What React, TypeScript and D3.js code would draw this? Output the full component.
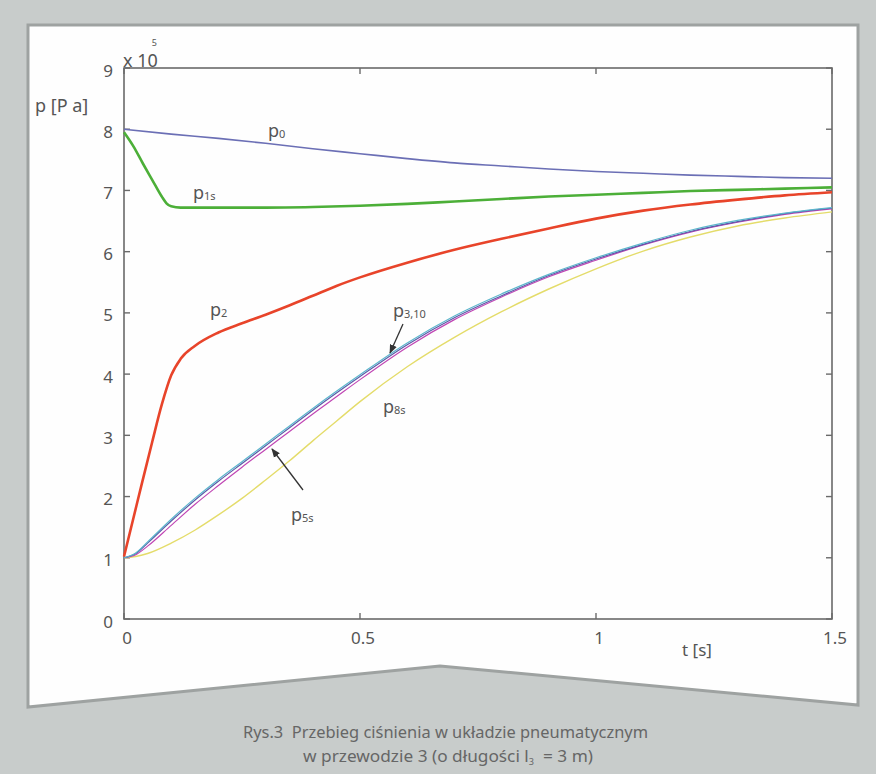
import React from "react";
import * as d3 from "d3";

const W = 876;
const H = 774;

const xTicks = [0, 0.5, 1, 1.5];
const xTickLabels = ["0", "0.5", "1", "1.5"];
const yTicks = [0, 1, 2, 3, 4, 5, 6, 7, 8, 9];

const tP0 = [0, 0.1, 0.2, 0.3, 0.4, 0.5, 0.6, 0.7, 0.8, 0.9, 1.0, 1.1, 1.2, 1.3, 1.4, 1.5];
const p0 = [8.0, 7.92, 7.85, 7.77, 7.68, 7.6, 7.52, 7.45, 7.4, 7.35, 7.31, 7.28, 7.25, 7.23, 7.21, 7.2];

const tP1s = [0, 0.02, 0.04, 0.06, 0.08, 0.09, 0.1, 0.12, 0.2, 0.3, 0.4, 0.5, 0.6, 0.7, 0.8, 0.9, 1.0, 1.1, 1.2, 1.3, 1.4, 1.5];
const p1s = [7.95, 7.72, 7.44, 7.17, 6.9, 6.79, 6.74, 6.72, 6.72, 6.72, 6.73, 6.75, 6.78, 6.82, 6.86, 6.9, 6.93, 6.96, 6.99, 7.01, 7.03, 7.05];

const tP2 = [0, 0.02, 0.04, 0.06, 0.08, 0.1, 0.12, 0.15, 0.2, 0.25, 0.3, 0.35, 0.4, 0.45, 0.5, 0.6, 0.7, 0.8, 0.9, 1.0, 1.1, 1.2, 1.3, 1.4, 1.5];
const p2 = [1.02, 1.65, 2.28, 2.9, 3.5, 3.98, 4.25, 4.46, 4.68, 4.83, 4.97, 5.12, 5.28, 5.44, 5.58, 5.82, 6.03, 6.21, 6.38, 6.54, 6.67, 6.77, 6.85, 6.92, 6.97];

const tSlow = [0, 0.025, 0.05, 0.1, 0.15, 0.2, 0.25, 0.3, 0.35, 0.4, 0.45, 0.5, 0.6, 0.7, 0.8, 0.9, 1.0, 1.1, 1.2, 1.3, 1.4, 1.5];
const p3 = [1.0, 1.08, 1.26, 1.63, 1.97, 2.28, 2.57, 2.86, 3.15, 3.44, 3.72, 3.99, 4.51, 4.95, 5.31, 5.63, 5.9, 6.14, 6.35, 6.51, 6.63, 6.72];
const p10 = [1.0, 1.07, 1.24, 1.6, 1.94, 2.25, 2.54, 2.83, 3.12, 3.41, 3.69, 3.96, 4.48, 4.92, 5.28, 5.61, 5.88, 6.12, 6.33, 6.49, 6.62, 6.71];
const p5s = [1.0, 1.05, 1.19, 1.53, 1.87, 2.18, 2.48, 2.77, 3.06, 3.35, 3.63, 3.91, 4.44, 4.89, 5.26, 5.59, 5.86, 6.11, 6.32, 6.48, 6.61, 6.7];
const p8s = [1.0, 1.02, 1.07, 1.24, 1.45, 1.7, 1.97, 2.27, 2.58, 2.91, 3.23, 3.55, 4.12, 4.6, 5.02, 5.39, 5.72, 6.01, 6.24, 6.42, 6.55, 6.65];

const series = [
  { t: tSlow, v: p8s, color: "#e4dc6a", width: 1.4 },
  { t: tSlow, v: p5s, color: "#c046b4", width: 1.2 },
  { t: tSlow, v: p10, color: "#5a5aa8", width: 1.2 },
  { t: tSlow, v: p3, color: "#5cb6cc", width: 1.2 },
  { t: tP2, v: p2, color: "#e8442a", width: 2.6 },
  { t: tP1s, v: p1s, color: "#4caf38", width: 2.6 },
  { t: tP0, v: p0, color: "#6b6fb5", width: 1.6 },
];

const L = 124, R = 832, T = 68, B = 619;
const FONT = "'Noto Sans', 'Open Sans', sans-serif";
const TXT = "#555";
const AX = "#6a6a6a";

export default function App() {
  const x = d3.scaleLinear().domain([0, 1.5]).range([L, R]);
  const y = d3.scaleLinear().domain([0, 9]).range([B, T]);
  const line = d3
    .line<[number, number]>()
    .x((d) => x(d[0]))
    .y((d) => y(d[1]))
    .curve(d3.curveMonotoneX);

  const tick = 6;

  return (
    <svg
      width={W}
      height={H}
      style={{ position: "absolute", left: 0, top: 0, display: "block" }}
    >
      <defs>
        <marker id="ah" viewBox="0 0 10 10" refX="9" refY="5" markerWidth="7" markerHeight="7" orient="auto-start-reverse">
          <path d="M0,1 L10,5 L0,9 Z" fill="#333" />
        </marker>
      </defs>
      <rect x={0} y={0} width={W} height={H} fill="#c8cccb" />
      <polygon
        points="28,25 858,25 858,705 440,666 28,707"
        fill="#fefefe"
        stroke="#9ea2a1"
        strokeWidth={3}
      />
      <rect x={L} y={T} width={R - L} height={B - T} fill="none" stroke={AX} strokeWidth={1.6} />
      {yTicks.map((v) => (
        <g key={"y" + v}>
          <line x1={L} x2={L + tick} y1={y(v)} y2={y(v)} stroke={AX} strokeWidth={1.4} />
          <line x1={R} x2={R - tick} y1={y(v)} y2={y(v)} stroke={AX} strokeWidth={1.4} />
          <text x={113} y={y(v) + 4} textAnchor="end" dominantBaseline="middle" fontFamily={FONT} fontSize={17} fill={TXT}>
            {v}
          </text>
        </g>
      ))}
      {xTicks.map((v, i) => (
        <g key={"x" + v}>
          <line x1={x(v)} x2={x(v)} y1={B} y2={B - tick} stroke={AX} strokeWidth={1.4} />
          <line x1={x(v)} x2={x(v)} y1={T} y2={T + tick} stroke={AX} strokeWidth={1.4} />
          <text x={x(v) + 3} y={644} textAnchor="middle" fontFamily={FONT} fontSize={17} fill={TXT}>
            {xTickLabels[i]}
          </text>
        </g>
      ))}
      <text x={123} y={67} fontFamily={FONT} fontSize={18} fill={TXT}>
        x 10<tspan fontSize={9} dx={-6} dy={-21}>5</tspan>
      </text>
      <text x={35} y={112} fontFamily={FONT} fontSize={18} fill={TXT}>p [P a]</text>
      <text x={682} y={656} fontFamily={FONT} fontSize={17} fill={TXT}>t [s]</text>

      {series.map((s, i) => (
        <path
          key={i}
          d={line(s.t.map((t, j) => [t, s.v[j]] as [number, number])) || ""}
          fill="none"
          stroke={s.color}
          strokeWidth={s.width}
          strokeLinejoin="round"
        />
      ))}

      <g fontFamily={FONT} fill={TXT}>
        <text x={268} y={137} fontSize={18}>p<tspan fontSize={11} dy={1}>0</tspan></text>
        <text x={193} y={199} fontSize={18}>p<tspan fontSize={11} dy={1}>1s</tspan></text>
        <text x={210} y={316} fontSize={18}>p<tspan fontSize={11} dy={1}>2</tspan></text>
        <text x={393} y={317} fontSize={18}>p<tspan fontSize={11} dy={1}>3,10</tspan></text>
        <text x={383} y={413} fontSize={18}>p<tspan fontSize={11} dy={1}>8s</tspan></text>
        <text x={291} y={521} fontSize={18}>p<tspan fontSize={11} dy={1}>5s</tspan></text>
      </g>
      <line x1={403} y1={324} x2={390} y2={353} stroke="#333" strokeWidth={1.3} markerEnd="url(#ah)" />
      <line x1={303} y1={490} x2={272} y2={449} stroke="#333" strokeWidth={1.3} markerEnd="url(#ah)" />

      <g fontFamily={FONT} fontSize={17} fill="#666">
        <text x={243} y={738} textLength={405} lengthAdjust="spacingAndGlyphs">
          {"Rys.3\u00a0\u00a0Przebieg ciśnienia w układzie pneumatycznym"}
        </text>
        <text x={303} y={762} textLength={290} lengthAdjust="spacingAndGlyphs">
          {"w przewodzie 3 (o długości l"}<tspan fontSize={9} dy={3}>3</tspan><tspan dy={-3}>{"\u00a0\u00a0= 3 m)"}</tspan>
        </text>
      </g>
    </svg>
  );
}
